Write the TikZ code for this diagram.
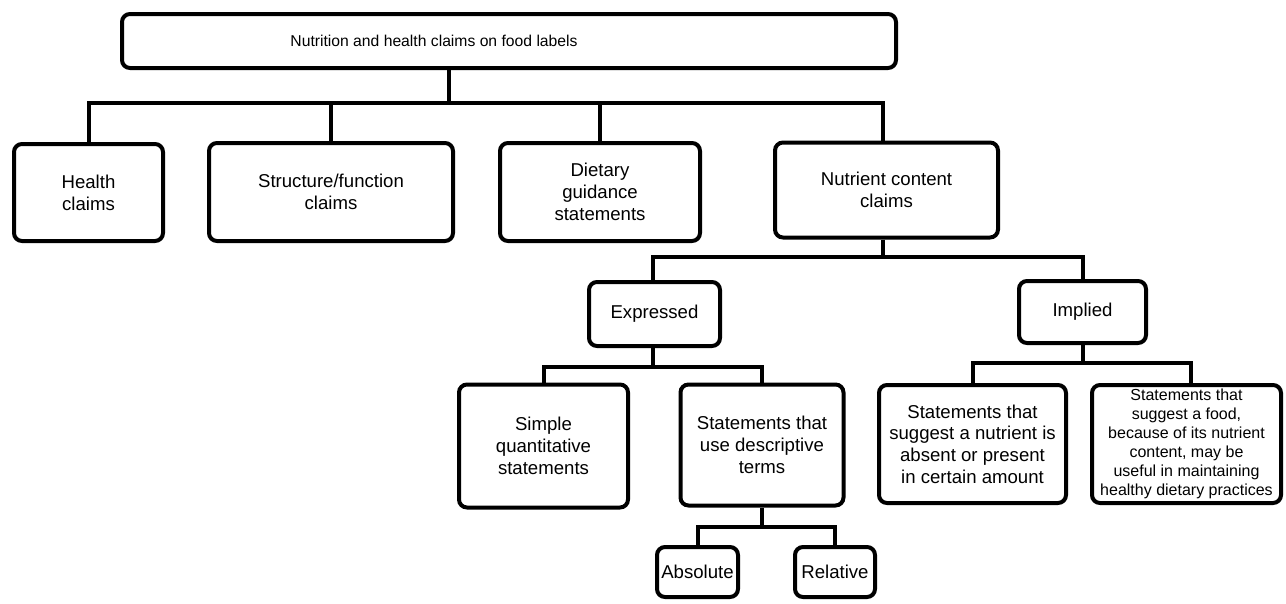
\documentclass[tikz,border=0pt]{standalone}
\usepackage{fontspec}
\setmainfont{Liberation Sans}
\tikzset{
  claimbox/.style={draw, line width=4pt, rounded corners=8pt, align=center, inner sep=0pt,
    font=\fontsize{18.6}{21.7}\selectfont},
  branch/.style={line width=4pt}
}
\begin{document}
\begin{tikzpicture}[x=1pt,y=-1pt]
\useasboundingbox (0,0) rectangle (1286,603);

%Shape: top box
\node [claimbox, minimum width=774pt, minimum height=54pt] (top) at (509,41) {};
% Text Node
\node [font=\fontsize{15.7}{18}\selectfont] (title) at (434,41) {Nutrition and health claims on food labels};

%Shape: first row
\node [claimbox, minimum width=149pt, minimum height=97pt] (health) at (88.5,192.5) {Health\\claims};
\node [claimbox, minimum width=244pt, minimum height=98pt] (structure) at (331,192) {Structure/function\\claims};
\node [claimbox, minimum width=200pt, minimum height=98pt] (dietary) at (600,192) {Dietary\\guidance\\statements};
\node [claimbox, minimum width=223pt, minimum height=95pt] (nutrient) at (886.5,190) {Nutrient content\\claims};

%Shape: second row
\node [claimbox, minimum width=131pt, minimum height=64pt] (expressed) at (654.5,314) {Expressed};
\node [claimbox, minimum width=127pt, minimum height=62pt] (implied) at (1082.5,312) {Implied};

%Shape: third row
\node [claimbox, minimum width=169pt, minimum height=123pt] (simple) at (543.5,446) {Simple\\quantitative\\statements};
\node [claimbox, minimum width=163pt, minimum height=121pt] (descriptive) at (762,445) {Statements that\\use descriptive\\terms};
\node [claimbox, minimum width=187pt, minimum height=118pt] (absent) at (972.5,444) {Statements that\\suggest a nutrient is\\absent or present\\in certain amount};
\node [claimbox, minimum width=189pt, minimum height=118pt, font=\fontsize{16}{19}\selectfont] (food) at (1186.5,444) {Statements that\\suggest a food,\\because of its nutrient\\content, may be\\useful in maintaining\\healthy dietary practices};

%Shape: fourth row
\node [claimbox, minimum width=81pt, minimum height=50pt] (absolute) at (697.5,572) {Absolute};
\node [claimbox, minimum width=80pt, minimum height=50pt] (relative) at (835,572) {Relative};

% forks
\coordinate (fork1) at (449,103);
\coordinate (fork2) at (883,257);
\coordinate (fork3) at (653,367);
\coordinate (fork4) at (762,527);
\coordinate (fork5) at (1083,363);

%Straight Lines
\draw [branch] (top.south -| fork1) -- (fork1);
\draw [branch] (health.north) |- (fork1);
\draw [branch] (structure.north) |- (fork1);
\draw [branch] (dietary.north) |- (fork1);
\draw [branch] (nutrient.north -| fork2) |- (fork1);
%Straight Lines
\draw [branch] (nutrient.south -| fork2) -- (fork2);
\draw [branch] (expressed.north -| fork3) |- (fork2);
\draw [branch] (implied.north -| fork5) |- (fork2);
%Straight Lines
\draw [branch] (expressed.south -| fork3) -- (fork3);
\draw [branch] (simple.north) |- (fork3);
\draw [branch] (descriptive.north) |- (fork3);
%Straight Lines
\draw [branch] (descriptive.south) -- (fork4);
\draw [branch] (absolute.north) |- (fork4);
\draw [branch] (relative.north) |- (fork4);
%Straight Lines
\draw [branch] (implied.south -| fork5) -- (fork5);
\draw [branch] (absent.north) |- (fork5);
\draw [branch] (food.north -| 1191,0) |- (fork5);

\end{tikzpicture}
\end{document}
